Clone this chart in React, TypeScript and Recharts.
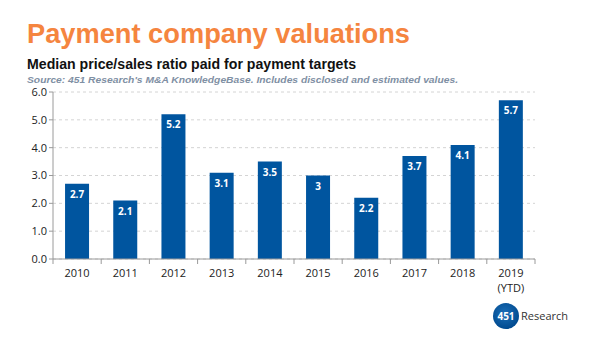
import { BarChart, Bar, XAxis, YAxis, CartesianGrid, LabelList } from "recharts";

const years = ["2010", "2011", "2012", "2013", "2014", "2015", "2016", "2017", "2018", "2019 (YTD)"];
const ratios = [2.7, 2.1, 5.2, 3.1, 3.5, 3, 2.2, 3.7, 4.1, 5.7];
const yTicks = [0, 1, 2, 3, 4, 5, 6];

const data = years.map((year, i) => ({ year, ratio: ratios[i] }));

const tickFont = "'Open Sans', 'DejaVu Sans', sans-serif";
const headFont = "'Liberation Sans', Arial, sans-serif";

function YearTick(props: any) {
  const { x, y, payload, index, visibleTicksCount } = props;
  const half = payload.offset ?? 24;
  const lines = String(payload.value).split(" ");
  const isLast = index === (visibleTicksCount ?? years.length) - 1;
  return (
    <g>
      <line x1={x - half} x2={x - half} y1={y - 8} y2={y - 3} stroke="#9a9a9a" />
      {isLast && <line x1={x + half} x2={x + half} y1={y - 8} y2={y - 3} stroke="#9a9a9a" />}
      {lines.map((line, i) => (
        <text
          key={i}
          x={x}
          y={y + 10 + i * 15}
          textAnchor="middle"
          fontSize={11}
          fontFamily={tickFont}
          fill="#222"
        >
          {line}
        </text>
      ))}
    </g>
  );
}

export default function App() {
  return (
    <div style={{ position: "absolute", left: 0, top: 0, width: 600, height: 340, background: "#fff" }}>
      <svg width={600} height={92} style={{ position: "absolute", left: 0, top: 0 }}>
        <text x={27} y={43} fontSize={28} fontWeight={700} fill="#f5853f" fontFamily={headFont} textLength={383} lengthAdjust="spacingAndGlyphs">
          Payment company valuations
        </text>
        <text x={27} y={69} fontSize={14.5} fontWeight={700} fill="#111" fontFamily={headFont} textLength={329} lengthAdjust="spacingAndGlyphs">
          Median price/sales ratio paid for payment targets
        </text>
        <text x={27} y={82.5} fontSize={9.5} fontWeight={700} fontStyle="italic" fill="#7f90a4" fontFamily={headFont} textLength={431} lengthAdjust="spacingAndGlyphs">
          Source: 451 Research's M&amp;A KnowledgeBase. Includes disclosed and estimated values.
        </text>
      </svg>
      <div style={{ position: "absolute", left: 0, top: 0 }}>
        <BarChart width={600} height={340} data={data} margin={{ top: 92, right: 65, bottom: 41, left: 13 }} barCategoryGap="25%">
          <CartesianGrid vertical={false} stroke="#d4d4d4" strokeDasharray="3 3" />
          <XAxis
            dataKey="year"
            interval={0}
            height={40}
            tickLine={false}
            axisLine={{ stroke: "#9a9a9a" }}
            tick={<YearTick />}
          />
          <YAxis
            width={40}
            domain={[0, 6]}
            ticks={yTicks}
            tickFormatter={(v: number) => v.toFixed(1)}
            axisLine={{ stroke: "#9a9a9a" }}
            tickLine={{ stroke: "#9a9a9a" }}
            tickSize={4}
            tick={{ fontSize: 11, fill: "#222", fontFamily: tickFont }}
          />
          <Bar dataKey="ratio" fill="#00559f" isAnimationActive={false}>
            <LabelList
              dataKey="ratio"
              position="insideTop"
              offset={7}
              fill="#fff"
              fontSize={10}
              fontWeight={700}
              fontFamily={tickFont}
            />
          </Bar>
        </BarChart>
      </div>
      <svg width={120} height={40} style={{ position: "absolute", left: 490, top: 296 }}>
        <defs>
          <radialGradient id="logoGrad" cx="45%" cy="40%" r="60%">
            <stop offset="0%" stopColor="#1c6fb8" />
            <stop offset="100%" stopColor="#004a8f" />
          </radialGradient>
        </defs>
        <circle cx={16} cy={20} r={13} fill="url(#logoGrad)" />
        <text x={16} y={24} textAnchor="middle" fontSize={10} fontWeight={700} fill="#fff" fontFamily={tickFont}>451</text>
        <text x={31} y={24} fontSize={11} fill="#333" fontFamily={tickFont}>Research</text>
      </svg>
    </div>
  );
}
